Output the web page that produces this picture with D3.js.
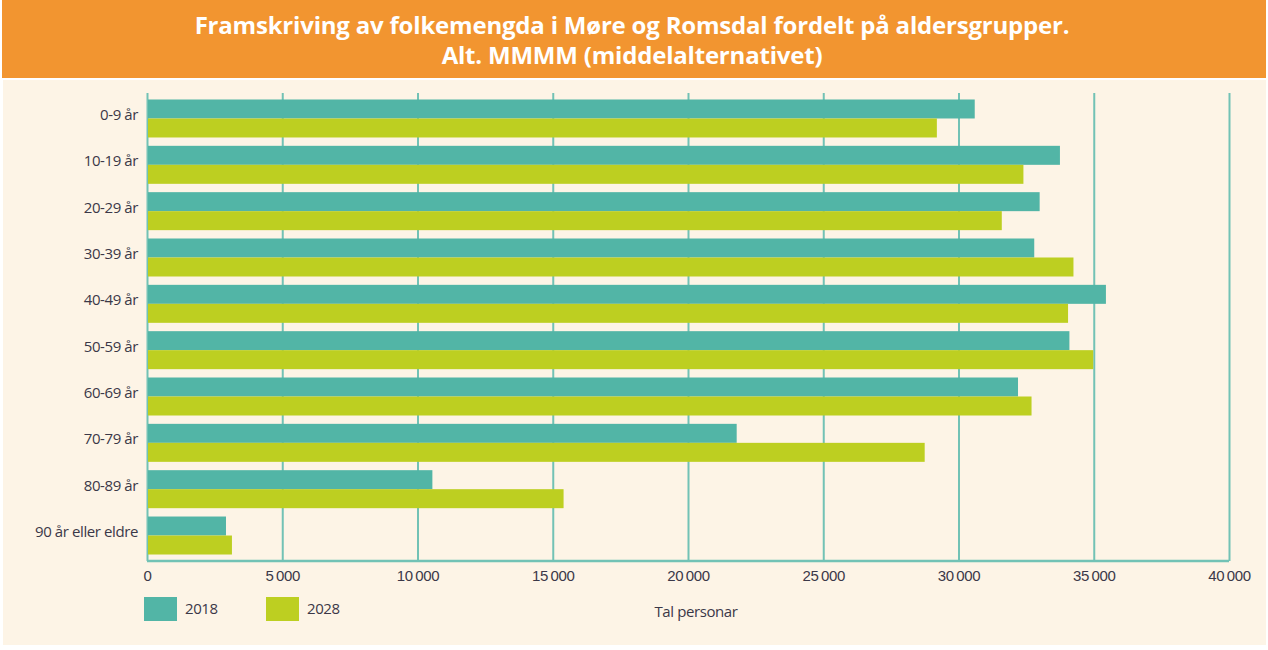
<!DOCTYPE html>
<html>
<head>
<meta charset="utf-8">
<script src="https://cdn.jsdelivr.net/npm/d3@7"></script>
<style>
  body { margin: 0; background: #fff; }
  svg { display: block; font-family: 'Open Sans', sans-serif; }
  .tick text, .cat-label, .legend-label, .axis-label { fill: #3b3848; font-size: 15px; letter-spacing: -0.4px; }
  .title { fill: #fff; font-weight: 700; font-size: 24px; letter-spacing: -0.2px; }
</style>
</head>
<body>
<svg width="1268" height="650"></svg>
<script>
const categories = ['0-9 år', '10-19 år', '20-29 år', '30-39 år', '40-49 år',
  '50-59 år', '60-69 år', '70-79 år', '80-89 år', '90 år eller eldre'];
const values2018 = [30600, 33750, 33000, 32800, 35450, 34100, 32200, 21800, 10550, 2920];
const values2028 = [29200, 32400, 31600, 34250, 34050, 34980, 32700, 28750, 15400, 3140];
const series = ['2018', '2028'];
const colors = ['#52b5a6', '#bdcf21'];
const xTicks = [0, 5000, 10000, 15000, 20000, 25000, 30000, 35000, 40000];

const svg = d3.select('svg');

// backgrounds
svg.append('rect').attr('x', 3).attr('y', 80).attr('width', 1263).attr('height', 565).attr('fill', '#fdf4e6');
svg.append('rect').attr('x', 2).attr('y', 0).attr('width', 1264).attr('height', 78).attr('fill', '#f29530');

const title = svg.append('text').attr('class', 'title').attr('text-anchor', 'middle');
title.append('tspan').attr('x', 632).attr('y', 34)
  .text('Framskriving av folkemengda i Møre og Romsdal fordelt på aldersgrupper.');
title.append('tspan').attr('x', 632).attr('y', 64)
  .text('Alt. MMMM (middelalternativet)');

const margin = { top: 93, left: 147 };
const innerWidth = 1229 - margin.left;
const innerHeight = 561 - margin.top;

const g = svg.append('g').attr('transform', `translate(${margin.left}, ${margin.top})`);

const xScale = d3.scaleLinear().domain([0, 40000]).range([0, innerWidth]);
const yScale = d3.scaleBand().domain(categories).range([0, innerHeight])
  .paddingInner(0.18).paddingOuter(0.14);
const subScale = d3.scaleBand().domain(series).range([0, yScale.bandwidth()]);

const fmt = d => d3.format(',')(d).replace(',', '\u2009');

// grid lines
const xAxis = d3.axisBottom(xScale)
  .tickValues(xTicks)
  .tickFormat(fmt)
  .tickSize(innerHeight)
  .tickPadding(7);

const xAxisG = g.append('g').call(xAxis);
xAxisG.select('.domain').remove();
xAxisG.selectAll('.tick line').attr('stroke', '#72c2b5').attr('stroke-width', 2);
xAxisG.selectAll('.tick text').attr('dy', '0.85em');

// bottom axis line
g.append('line')
  .attr('x1', 0).attr('x2', innerWidth)
  .attr('y1', innerHeight).attr('y2', innerHeight)
  .attr('stroke', '#72c2b5').attr('stroke-width', 2.5);

// bars
const rows = categories.map((c, i) => ({ cat: c, vals: [values2018[i], values2028[i]] }));
const rowG = g.selectAll('.row').data(rows).enter().append('g')
  .attr('transform', d => `translate(0, ${yScale(d.cat)})`);

rowG.selectAll('rect')
  .data(d => d.vals.map((v, j) => ({ key: series[j], v, j })))
  .enter().append('rect')
  .attr('x', 1)
  .attr('y', d => subScale(d.key))
  .attr('width', d => xScale(d.v) - 1)
  .attr('height', subScale.bandwidth())
  .attr('fill', d => colors[d.j]);

// category labels
g.selectAll('.cat-label').data(categories).enter().append('text')
  .attr('class', 'cat-label')
  .attr('x', -9)
  .attr('y', d => yScale(d) + yScale.bandwidth() / 2)
  .attr('dy', '0.1em')
  .attr('text-anchor', 'end')
  .text(d => d);

// legend
const legend = svg.append('g').attr('transform', 'translate(144, 597)');
const legItem = legend.selectAll('g').data(series).enter().append('g')
  .attr('transform', (d, i) => `translate(${i * 122}, 0)`);
legItem.append('rect').attr('width', 33).attr('height', 24).attr('fill', (d, i) => colors[i]);
legItem.append('text').attr('class', 'legend-label').attr('x', 41).attr('y', 17).text(d => d);

svg.append('text').attr('class', 'axis-label')
  .attr('x', 696).attr('y', 617).attr('text-anchor', 'middle')
  .text('Tal personar');
</script>
</body>
</html>
